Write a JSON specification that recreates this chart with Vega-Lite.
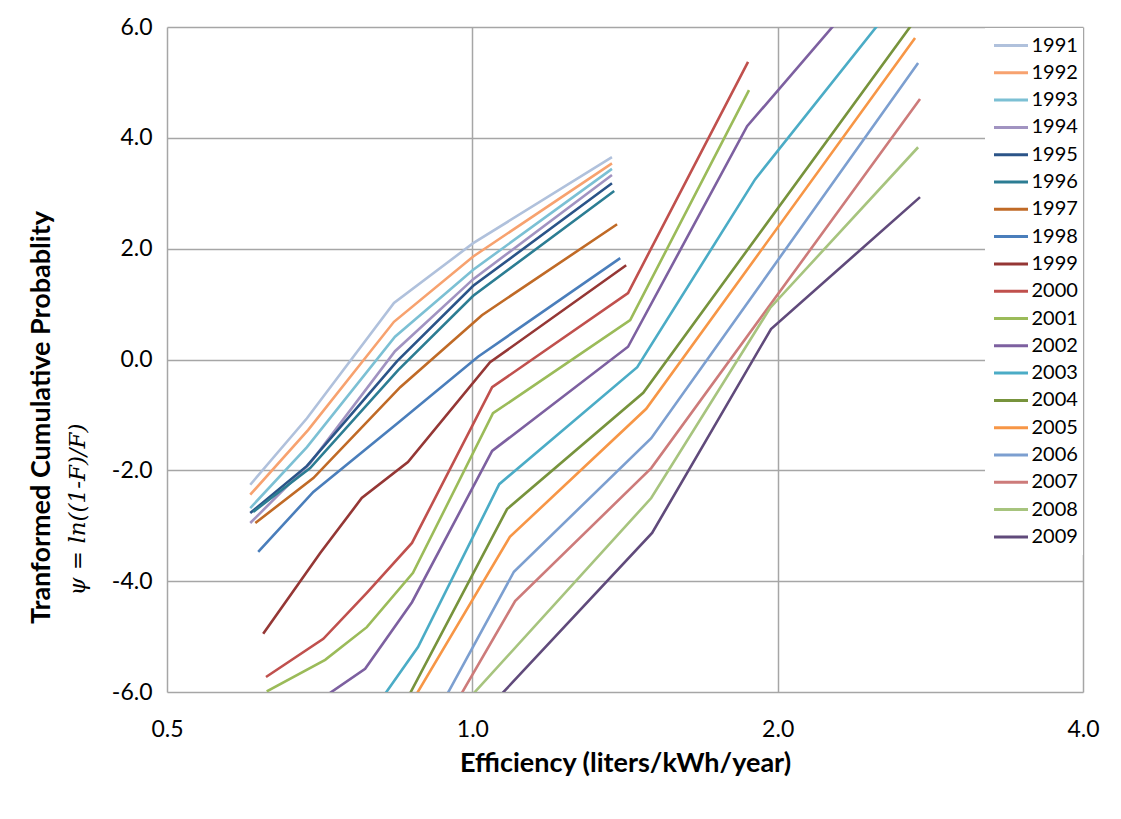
{
  "$schema": "https://vega.github.io/schema/vega-lite/v6.json",
  "width": 916,
  "height": 665,
  "autosize": {"type": "none"},
  "padding": {"left": 167, "top": 27, "right": 38, "bottom": 127},
  "background": "white",
  "config": {"font": "Lato", "view": {"stroke": null}},
  "title": {
    "text": "Tranformed Cumulative Probablity",
    "orient": "left",
    "anchor": "middle",
    "font": "Lato",
    "fontSize": 27,
    "fontWeight": "bold",
    "color": "black",
    "offset": 10,
    "dx": -58
  },
  "data": {
    "values": [
      {"year": "1991", "x": 0.604, "y": -2.26}, {"year": "1991", "x": 0.687, "y": -1.06}, {"year": "1991", "x": 0.837, "y": 1.02}, {"year": "1991", "x": 1.002, "y": 2.10}, {"year": "1991", "x": 1.373, "y": 3.65},
      {"year": "1992", "x": 0.604, "y": -2.44}, {"year": "1992", "x": 0.689, "y": -1.27}, {"year": "1992", "x": 0.837, "y": 0.68}, {"year": "1992", "x": 1.002, "y": 1.86}, {"year": "1992", "x": 1.373, "y": 3.54},
      {"year": "1993", "x": 0.604, "y": -2.68}, {"year": "1993", "x": 0.687, "y": -1.58}, {"year": "1993", "x": 0.839, "y": 0.41}, {"year": "1993", "x": 1.002, "y": 1.62}, {"year": "1993", "x": 1.373, "y": 3.44},
      {"year": "1994", "x": 0.604, "y": -2.95}, {"year": "1994", "x": 0.692, "y": -1.87}, {"year": "1994", "x": 0.839, "y": 0.15}, {"year": "1994", "x": 1.002, "y": 1.45}, {"year": "1994", "x": 1.373, "y": 3.33},
      {"year": "1995", "x": 0.604, "y": -2.77}, {"year": "1995", "x": 0.687, "y": -1.92}, {"year": "1995", "x": 0.843, "y": -0.03}, {"year": "1995", "x": 1.002, "y": 1.33}, {"year": "1995", "x": 1.373, "y": 3.18},
      {"year": "1996", "x": 0.608, "y": -2.75}, {"year": "1996", "x": 0.692, "y": -1.96}, {"year": "1996", "x": 0.845, "y": -0.19}, {"year": "1996", "x": 1.002, "y": 1.15}, {"year": "1996", "x": 1.380, "y": 3.04},
      {"year": "1997", "x": 0.611, "y": -2.95}, {"year": "1997", "x": 0.697, "y": -2.14}, {"year": "1997", "x": 0.849, "y": -0.50}, {"year": "1997", "x": 1.022, "y": 0.80}, {"year": "1997", "x": 1.389, "y": 2.44},
      {"year": "1998", "x": 0.615, "y": -3.47}, {"year": "1998", "x": 0.697, "y": -2.39}, {"year": "1998", "x": 0.845, "y": -1.14}, {"year": "1998", "x": 1.013, "y": 0.05}, {"year": "1998", "x": 1.399, "y": 1.83},
      {"year": "1999", "x": 0.622, "y": -4.95}, {"year": "1999", "x": 0.708, "y": -3.49}, {"year": "1999", "x": 0.778, "y": -2.50}, {"year": "1999", "x": 0.864, "y": -1.85}, {"year": "1999", "x": 1.041, "y": -0.05}, {"year": "1999", "x": 1.418, "y": 1.70},
      {"year": "2000", "x": 0.626, "y": -5.73}, {"year": "2000", "x": 0.713, "y": -5.04}, {"year": "2000", "x": 0.787, "y": -4.21}, {"year": "2000", "x": 0.872, "y": -3.31}, {"year": "2000", "x": 1.046, "y": -0.50}, {"year": "2000", "x": 1.424, "y": 1.20}, {"year": "2000", "x": 1.870, "y": 5.37},
      {"year": "2001", "x": 0.627, "y": -5.99}, {"year": "2001", "x": 0.716, "y": -5.42}, {"year": "2001", "x": 0.787, "y": -4.83}, {"year": "2001", "x": 0.874, "y": -3.85}, {"year": "2001", "x": 1.048, "y": -0.97}, {"year": "2001", "x": 1.431, "y": 0.71}, {"year": "2001", "x": 1.874, "y": 4.86},
      {"year": "2002", "x": 0.713, "y": -6.10}, {"year": "2002", "x": 0.784, "y": -5.58}, {"year": "2002", "x": 0.872, "y": -4.38}, {"year": "2002", "x": 1.046, "y": -1.65}, {"year": "2002", "x": 1.424, "y": 0.23}, {"year": "2002", "x": 1.866, "y": 4.21}, {"year": "2002", "x": 2.751, "y": 7.80},
      {"year": "2003", "x": 0.787, "y": -6.50}, {"year": "2003", "x": 0.884, "y": -5.19}, {"year": "2003", "x": 1.063, "y": -2.25}, {"year": "2003", "x": 1.454, "y": -0.14}, {"year": "2003", "x": 1.900, "y": 3.25}, {"year": "2003", "x": 2.751, "y": 6.95},
      {"year": "2004", "x": 0.800, "y": -7.26}, {"year": "2004", "x": 1.082, "y": -2.70}, {"year": "2004", "x": 1.474, "y": -0.60}, {"year": "2004", "x": 2.751, "y": 6.20},
      {"year": "2005", "x": 0.800, "y": -7.33}, {"year": "2005", "x": 1.089, "y": -3.20}, {"year": "2005", "x": 1.484, "y": -0.89}, {"year": "2005", "x": 2.732, "y": 5.80},
      {"year": "2006", "x": 0.888, "y": -6.94}, {"year": "2006", "x": 1.099, "y": -3.83}, {"year": "2006", "x": 1.501, "y": -1.42}, {"year": "2006", "x": 2.751, "y": 5.35},
      {"year": "2007", "x": 0.929, "y": -6.70}, {"year": "2007", "x": 1.102, "y": -4.36}, {"year": "2007", "x": 1.501, "y": -1.96}, {"year": "2007", "x": 2.763, "y": 4.70},
      {"year": "2008", "x": 0.973, "y": -6.29}, {"year": "2008", "x": 1.501, "y": -2.50}, {"year": "2008", "x": 1.966, "y": 0.93}, {"year": "2008", "x": 2.751, "y": 3.83},
      {"year": "2009", "x": 1.018, "y": -6.45}, {"year": "2009", "x": 1.504, "y": -3.13}, {"year": "2009", "x": 1.970, "y": 0.55}, {"year": "2009", "x": 2.763, "y": 2.93}
    ]
  },
  "mark": {"type": "line", "clip": true, "strokeWidth": 2.6},
  "encoding": {
    "x": {
      "field": "x",
      "type": "quantitative",
      "scale": {"type": "log", "base": 2, "domain": [0.5, 4], "nice": false},
      "axis": {
        "values": [0.5, 1, 2, 4],
        "format": ".1f",
        "labelFlush": false,
        "title": "Efficiency (liters/kWh/year)",
        "titleFont": "Lato",
        "titleFontSize": 27,
        "titleFontWeight": "bold",
        "titleColor": "black",
        "titlePadding": 9,
        "labelFontSize": 23,
        "labelColor": "black",
        "labelPadding": 26,
        "ticks": false,
        "domain": false,
        "grid": true,
        "gridColor": "#a6a6a6",
        "gridWidth": 1.5
      }
    },
    "y": {
      "field": "y",
      "type": "quantitative",
      "scale": {"domain": [-6, 6], "nice": false, "zero": false},
      "axis": {
        "values": [-6, -4, -2, 0, 2, 4, 6],
        "labelExpr": "replace(format(datum.value, '.1f'), '−', '-')",
        "labelFlush": false,
        "title": "ψ = ln((1-F)/F)",
        "titleFont": "DejaVu Serif",
        "titleFontStyle": "italic",
        "titleFontWeight": "normal",
        "titleFontSize": 23,
        "titleColor": "black",
        "titleY": 482,
        "titleAlign": "center",
        "titlePadding": 22,
        "labelFontSize": 23,
        "labelColor": "black",
        "labelPadding": 15,
        "ticks": false,
        "domain": false,
        "grid": true,
        "gridColor": "#a6a6a6",
        "gridWidth": 1.5
      }
    },
    "color": {
      "field": "year",
      "type": "nominal",
      "scale": {
        "domain": ["1991","1992","1993","1994","1995","1996","1997","1998","1999","2000","2001","2002","2003","2004","2005","2006","2007","2008","2009"],
        "range": ["#b0c1dc","#f7a26f","#7cc0d4","#a193c1","#2b5488","#2c7d93","#c06a26","#4a7ebb","#953735","#c0504d","#9bbb59","#7d60a0","#4bacc6","#77933c","#f79646","#7c9fd0","#cd7b7a","#a7c47e","#604a7b"]
      },
      "legend": {
        "orient": "none",
        "legendX": 818,
        "legendY": 1,
        "title": null,
        "fillColor": "white",
        "padding": 5,
        "symbolType": "M-1.7,0L1.7,0",
        "symbolSize": 400,
        "symbolOffset": 9.5,
        "symbolStrokeWidth": 3,
        "labelFontSize": 20,
        "labelColor": "black",
        "labelOffset": 9,
        "clipHeight": 25,
        "rowPadding": 2.3
      }
    }
  }
}
